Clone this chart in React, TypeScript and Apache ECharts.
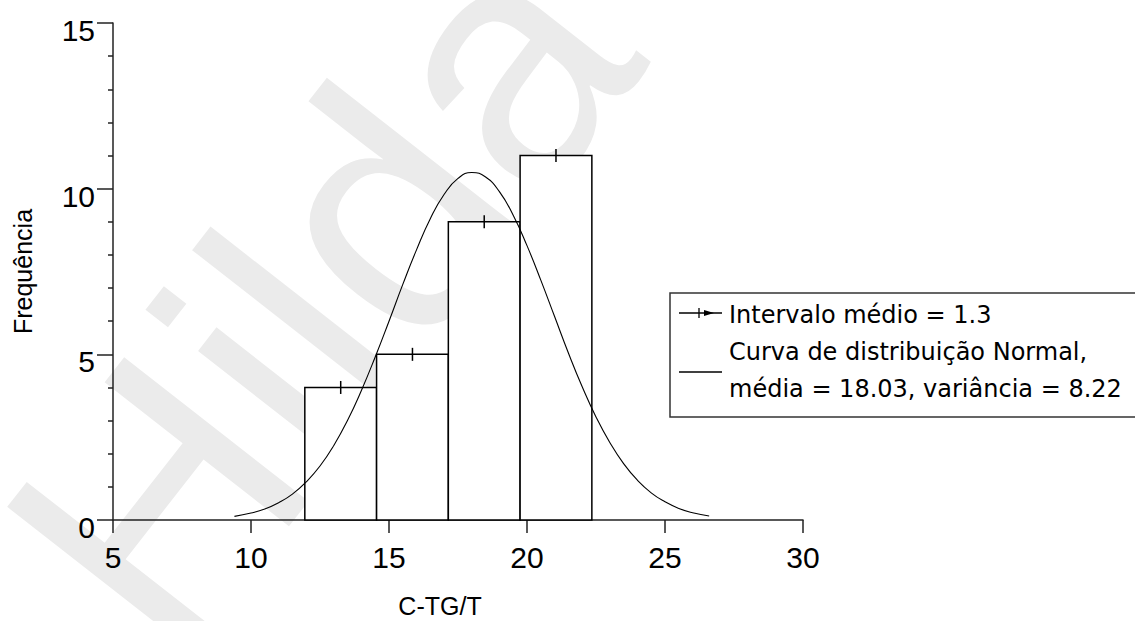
import React, { useEffect, useRef } from "react";
import * as echarts from "echarts";

// Histogram bins (class limits) and observed frequencies
const binStart = [11.95, 14.55, 17.15, 19.75];
const binEnd = [14.55, 17.15, 19.75, 22.35];
const counts = [4, 5, 9, 11];

// Fitted normal curve, sampled along the x axis
const curveX = [
  9.4, 10, 10.5, 11, 11.5, 12, 12.5, 13, 13.5, 14, 14.5, 15, 15.5, 16, 16.5, 17,
  17.5, 18, 18.5, 19, 19.5, 20, 20.5, 21, 21.5, 22, 22.5, 23, 23.5, 24, 24.5, 25,
  25.5, 26, 26.6,
];
const curveY = [
  0.11, 0.21, 0.33, 0.52, 0.78, 1.15, 1.63, 2.25, 3.01, 3.91, 4.92, 6.0, 7.11, 8.16,
  9.1, 9.83, 10.31, 10.49, 10.35, 9.91, 9.2, 8.28, 7.24, 6.14, 5.04, 4.02, 3.11, 2.34,
  1.7, 1.2, 0.82, 0.55, 0.35, 0.22, 0.12,
];

const xTicks = [5, 10, 15, 20, 25, 30];
const yTicks = [0, 5, 10, 15];

const xTitle = "C-TG/T";
const yTitle = "Frequência";
const legendLines = [
  "Intervalo médio = 1.3",
  "Curva de distribuição Normal,",
  "média = 18.03, variância = 8.22",
];
const watermark = "Hilda";

const AXIS_COLOR = "#222";
const TICK_FONT = "'Liberation Sans', Arial, sans-serif";
const LEGEND_FONT = "'DejaVu Sans', sans-serif";

export default function App() {
  const ref = useRef<HTMLDivElement>(null);

  useEffect(() => {
    if (!ref.current) return;
    const chart = echarts.init(ref.current, undefined, { renderer: "svg" });

    const histData = counts.map((c, i) => [binStart[i], binEnd[i], c]);

    const option: any = {
      animation: false,
      backgroundColor: "#fff",
      grid: { left: 113, top: 23, width: 690, height: 497 },
      xAxis: {
        type: "value",
        min: xTicks[0],
        max: xTicks[xTicks.length - 1],
        interval: 5,
        axisLine: { show: true, onZero: false, lineStyle: { color: AXIS_COLOR, width: 1.5 } },
        axisTick: { show: true, inside: false, length: 13, lineStyle: { color: AXIS_COLOR, width: 1.5 } },
        axisLabel: { fontSize: 30, color: "#000", margin: 22, fontFamily: TICK_FONT },
        splitLine: { show: false },
      },
      yAxis: {
        type: "value",
        min: yTicks[0],
        max: yTicks[yTicks.length - 1],
        interval: 5,
        name: yTitle,
        nameLocation: "middle",
        nameGap: 78,
        nameTextStyle: { fontSize: 25, color: "#000", fontFamily: TICK_FONT },
        axisLine: { show: true, onZero: false, lineStyle: { color: AXIS_COLOR, width: 1.5 } },
        axisTick: { show: true, inside: false, length: 16, lineStyle: { color: AXIS_COLOR, width: 1.5 } },
        minorTick: { show: true, splitNumber: 5, length: 5, lineStyle: { color: AXIS_COLOR, width: 1.5 } },
        axisLabel: {
          margin: 18,
          formatter: (v: number) => `{t|${v}}`,
          rich: {
            t: {
              fontSize: 30,
              color: "#000",
              fontFamily: TICK_FONT,
              padding: [15, 0, 0, 0],
            },
          },
        },
        splitLine: { show: false },
        minorSplitLine: { show: false },
      },
      graphic: [
        {
          type: "text",
          z: -10,
          silent: true,
          x: 320,
          y: 295,
          rotation: (52 * Math.PI) / 180,
          style: {
            text: watermark,
            fontSize: 340,
            fontFamily: TICK_FONT,
            fill: "#ebebeb",
            align: "center",
            verticalAlign: "middle",
          },
        },
        {
          type: "text",
          x: 440,
          y: 606,
          style: {
            text: xTitle,
            fontSize: 25,
            fontFamily: TICK_FONT,
            fill: "#000",
            align: "center",
            verticalAlign: "middle",
          },
        },
        {
          type: "group",
          z: 100,
          children: [
            {
              type: "rect",
              shape: { x: 670, y: 293, width: 520, height: 124 },
              style: { fill: "#fff", stroke: "#333", lineWidth: 1.5 },
            },
            {
              type: "line",
              shape: { x1: 679, y1: 313, x2: 722, y2: 313 },
              style: { stroke: "#000", lineWidth: 1.3 },
            },
            {
              type: "line",
              shape: { x1: 699, y1: 308, x2: 699, y2: 318 },
              style: { stroke: "#000", lineWidth: 1.3 },
            },
            {
              type: "polygon",
              shape: { points: [[704, 310], [714, 313], [704, 316]] },
              style: { fill: "#000" },
            },
            {
              type: "line",
              shape: { x1: 679, y1: 372, x2: 722, y2: 372 },
              style: { stroke: "#000", lineWidth: 1.3 },
            },
            ...legendLines.map((t, i) => ({
              type: "text",
              x: 729,
              y: 315 + i * 37,
              style: {
                text: t,
                fontSize: 24,
                fontFamily: LEGEND_FONT,
                fill: "#000",
                align: "left",
                verticalAlign: "middle",
              },
            })),
          ],
        },
      ],
      series: [
        {
          type: "custom",
          name: "hist",
          z: 2,
          data: histData,
          encode: { x: [0, 1], y: 2 },
          renderItem: (_params: any, api: any) => {
            const topLeft = api.coord([api.value(0), api.value(2)]);
            const bottomRight = api.coord([api.value(1), 0]);
            return {
              type: "rect",
              shape: {
                x: topLeft[0],
                y: topLeft[1],
                width: bottomRight[0] - topLeft[0],
                height: bottomRight[1] - topLeft[1],
              },
              style: { fill: "#fff", stroke: "#000", lineWidth: 1.5 },
            };
          },
        },
        {
          type: "custom",
          name: "interval",
          z: 3,
          data: histData,
          encode: { x: [0, 1], y: 2 },
          renderItem: (_params: any, api: any) => {
            const mid = (api.value(0) + api.value(1)) / 2;
            const p = api.coord([mid, api.value(2)]);
            return {
              type: "line",
              shape: { x1: p[0], y1: p[1] - 6.5, x2: p[0], y2: p[1] + 6.5 },
              style: { stroke: "#000", lineWidth: 1.5 },
            };
          },
        },
        {
          type: "line",
          name: "normal",
          z: 4,
          data: curveX.map((x, i) => [x, curveY[i]]),
          smooth: true,
          showSymbol: false,
          lineStyle: { color: "#000", width: 1.1 },
        },
      ],
    };

    chart.setOption(option);
    return () => chart.dispose();
  }, []);

  return (
    <div
      ref={ref}
      style={{ position: "fixed", left: 0, top: 0, width: 1135, height: 621, background: "#fff" }}
    />
  );
}
